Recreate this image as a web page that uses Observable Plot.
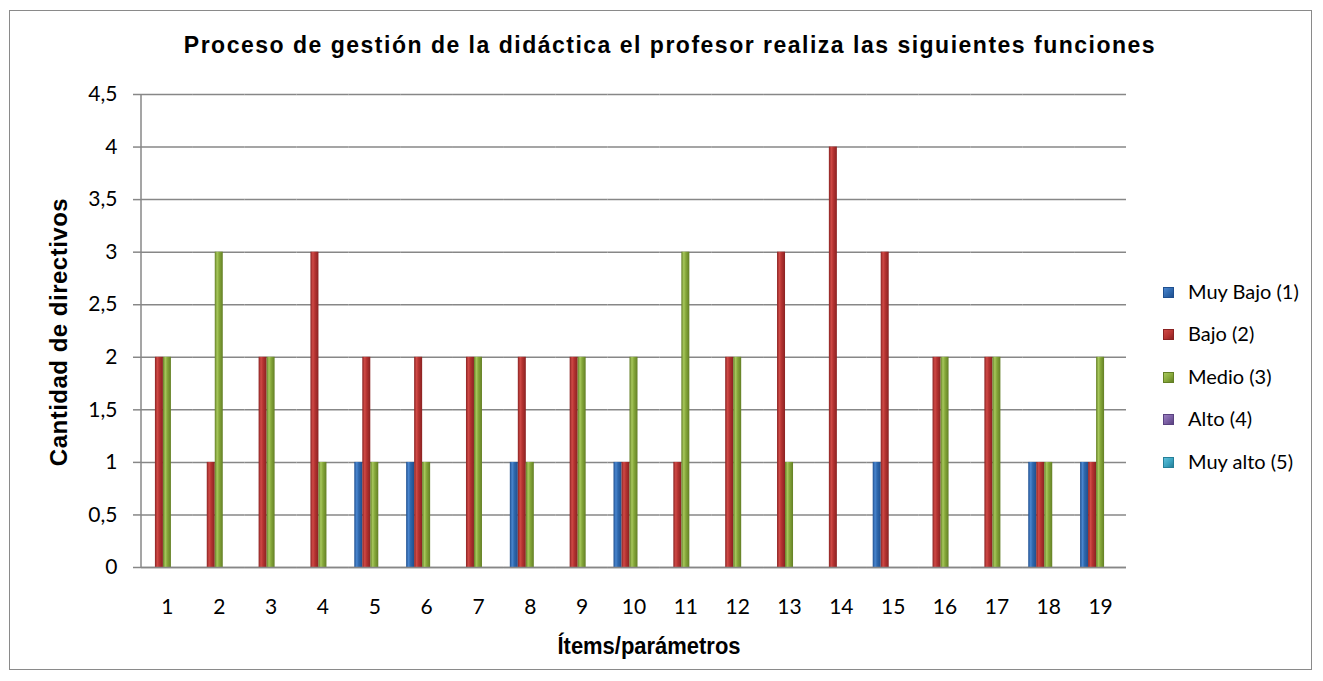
<!DOCTYPE html>
<html>
<head>
<meta charset="utf-8">
<script src="https://cdn.jsdelivr.net/npm/d3@7"></script>
<script src="https://cdn.jsdelivr.net/npm/@observablehq/plot@0.6"></script>
<style>
  html, body { margin: 0; padding: 0; background: #fff; }
  #wrap { position: relative; width: 1323px; height: 681px; overflow: hidden; }
  #frame { position: absolute; left: 9px; top: 10px; width: 1303px; height: 660px; border: 1px solid #8a8a8a; box-sizing: border-box; }
  #title { position: absolute; left: 0; top: 32px; width: 1340px; text-align: center; font-family: "Liberation Sans", Arial, sans-serif; font-weight: bold; font-size: 23px; letter-spacing: 1.5px; color: #000; white-space: nowrap; }
  #chart { position: absolute; left: 0; top: 0; }
  #legend { position: absolute; left: 1163px; top: 279px; font-family: Lato, "Open Sans", sans-serif; font-size: 20px; color: #000; }
  .li { height: 42.4px; display: flex; align-items: flex-start; }
  .sw { width: 11px; height: 11px; margin-right: 14px; margin-top: 8px; box-sizing: border-box; }
</style>
</head>
<body>
<div id="wrap">
  <div id="frame"></div>
  <div id="title">Proceso de gestión de la didáctica el profesor realiza las siguientes funciones</div>
  <div id="chart"></div>
  <div id="legend"></div>
</div>
<script>
const items = ["1","2","3","4","5","6","7","8","9","10","11","12","13","14","15","16","17","18","19"];
const seriesNames = ["Muy Bajo (1)", "Bajo (2)", "Medio (3)", "Alto (4)", "Muy alto (5)"];
const muyBajo = [0,0,0,0,1,1,0,1,0,1,0,0,0,0,1,0,0,1,1];
const bajo    = [2,1,2,3,2,2,2,2,2,1,1,2,3,4,3,2,2,1,1];
const medio   = [2,3,2,1,1,1,2,1,2,2,3,2,1,0,0,2,2,1,2];
const alto    = [0,0,0,0,0,0,0,0,0,0,0,0,0,0,0,0,0,0,0];
const muyAlto = [0,0,0,0,0,0,0,0,0,0,0,0,0,0,0,0,0,0,0];
const yTicks = [0,0.5,1,1.5,2,2.5,3,3.5,4,4.5];

const seriesValues = [muyBajo, bajo, medio, alto, muyAlto];
// colours: [dark edge, light, base]
const palette = [
  ["#1f4f8f", "#4a86cf", "#2f68ad"],
  ["#8a2222", "#cf4a46", "#b53331"],
  ["#637f25", "#a7c75c", "#86a83a"],
  ["#5a4280", "#9a7fc0", "#7a5ea3"],
  ["#257f98", "#5dc0da", "#3ba3c0"]
];
const gradIds = palette.map((_, i) => `grad${i}`);

const data = [];
items.forEach((it, i) => {
  seriesNames.forEach((s, j) => {
    const v = seriesValues[j][i];
    if (v > 0) data.push({item: it, series: s, value: v});
  });
});

const fmt = d => String(d).replace(".", ",");

const W = 1140, H = 681;
const chart = Plot.plot({
  width: W,
  height: H,
  marginLeft: 141,
  marginRight: W - 1126,
  marginTop: 94,
  marginBottom: H - 567,
  style: {fontFamily: "Lato, 'Open Sans', sans-serif", fontSize: "21px", color: "#000", background: "transparent"},
  fx: {domain: items, padding: 0, round: false, label: null, tickSize: 0, tickPadding: 32},
  x: {domain: seriesNames, paddingInner: 0, paddingOuter: 0.74, round: false, axis: null},
  y: {domain: [0, 4.5], ticks: yTicks, tickFormat: fmt, tickSize: 8, tickPadding: 16, label: null},
  color: {domain: seriesNames, range: gradIds.map(id => `url(#${id})`)},
  marks: [
    Plot.gridY(yTicks, {stroke: "#878787", strokeOpacity: 1, strokeWidth: 1.5, facetAnchor: null}),
    Plot.barY(data, {fx: "item", x: "series", y: "value", fill: "series"}),
    Plot.ruleY([0], {stroke: "#878787", strokeWidth: 1.5, facetAnchor: null})
  ]
});

// defs with horizontal gradients for the cylinder-like bars
const svgNS = "http://www.w3.org/2000/svg";
const defs = document.createElementNS(svgNS, "defs");
palette.forEach((c, i) => {
  const g = document.createElementNS(svgNS, "linearGradient");
  g.setAttribute("id", gradIds[i]);
  g.setAttribute("x1", "0"); g.setAttribute("x2", "1");
  g.setAttribute("y1", "0"); g.setAttribute("y2", "0");
  [[0, c[0]], [0.3, c[1]], [0.55, c[2]], [1, c[0]]].forEach(([o, col]) => {
    const s = document.createElementNS(svgNS, "stop");
    s.setAttribute("offset", o);
    s.setAttribute("stop-color", col);
    g.appendChild(s);
  });
  defs.appendChild(g);
});
chart.insertBefore(defs, chart.firstChild);

// y-axis line and tick colour
const yAxisLine = document.createElementNS(svgNS, "line");
yAxisLine.setAttribute("x1", 141); yAxisLine.setAttribute("x2", 141);
yAxisLine.setAttribute("y1", 94); yAxisLine.setAttribute("y2", 567);
yAxisLine.setAttribute("stroke", "#878787"); yAxisLine.setAttribute("stroke-width", 1.5);
chart.appendChild(yAxisLine);
d3.select(chart).selectAll("[aria-label='y-axis tick'] path").attr("stroke", "#878787").attr("stroke-width", 1.5);

// axis titles
const yt = document.createElementNS(svgNS, "text");
yt.textContent = "Cantidad de directivos";
yt.setAttribute("transform", "translate(61,332) rotate(-90)");
yt.setAttribute("text-anchor", "middle");
yt.setAttribute("dominant-baseline", "middle");
yt.setAttribute("font-family", "'Liberation Sans', Arial, sans-serif");
yt.setAttribute("font-weight", "bold");
yt.setAttribute("font-size", "24px");
yt.setAttribute("letter-spacing", "0.5px");
chart.appendChild(yt);

const xt = document.createElementNS(svgNS, "text");
xt.textContent = "Ítems/parámetros";
xt.setAttribute("transform", "translate(649,648) scale(0.915,1)");
xt.setAttribute("text-anchor", "middle");
xt.setAttribute("dominant-baseline", "middle");
xt.setAttribute("font-family", "'Liberation Sans', Arial, sans-serif");
xt.setAttribute("font-weight", "bold");
xt.setAttribute("font-size", "24px");
chart.appendChild(xt);

document.getElementById("chart").appendChild(chart);

// legend
const legend = document.getElementById("legend");
seriesNames.forEach((s, i) => {
  const row = document.createElement("div");
  row.className = "li";
  const sw = document.createElement("div");
  sw.className = "sw";
  sw.style.background = `linear-gradient(135deg, ${palette[i][1]}, ${palette[i][2]} 55%, ${palette[i][0]})`;
  sw.style.border = `1px solid ${palette[i][0]}`;
  const t = document.createElement("span");
  t.textContent = s;
  row.appendChild(sw); row.appendChild(t);
  legend.appendChild(row);
});
</script>
</body>
</html>
